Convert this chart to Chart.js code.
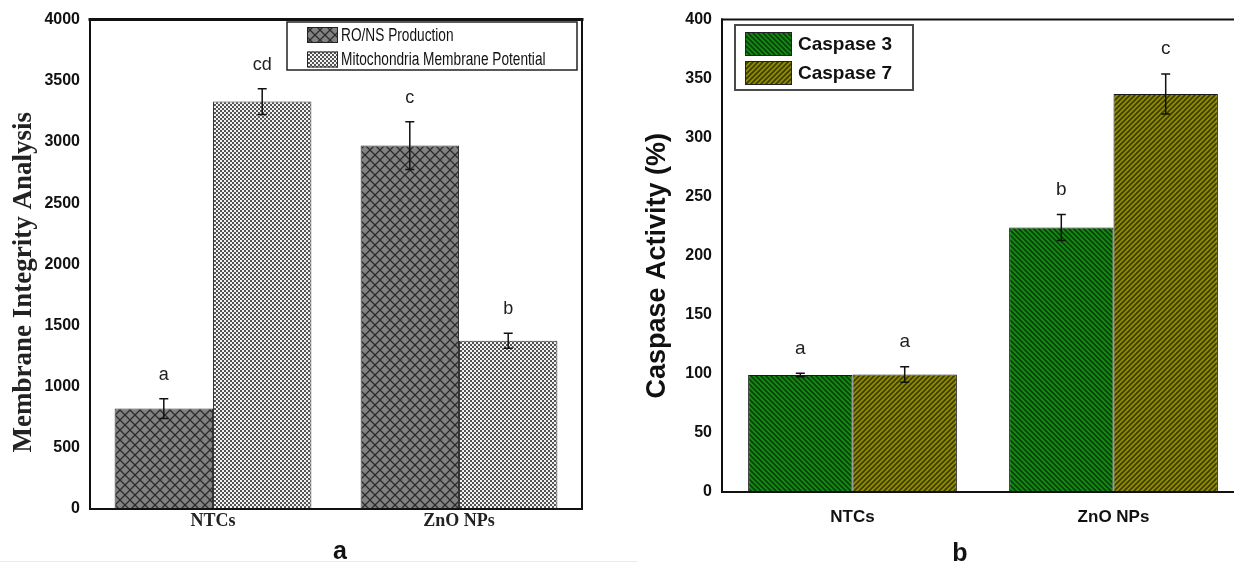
<!DOCTYPE html>
<html>
<head>
<meta charset="utf-8">
<script src="https://cdn.jsdelivr.net/npm/chart.js@4.4.1/dist/chart.umd.min.js"></script>
<style>
  html, body { margin: 0; padding: 0; background: #fff; overflow: hidden; width: 1234px; height: 565px; }
  #panelA { position: absolute; left: 0; top: 0; width: 615px; height: 565px; }
  #panelB { position: absolute; left: 615px; top: 0; width: 640px; height: 565px; }
  .caption { position: absolute; font: bold 25px "Liberation Sans", Arial, sans-serif; color: #111;
             line-height: 1; transform: translate(-50%, -50%); }
  .rule { position: absolute; left: 0; top: 561px; width: 637px; height: 1px; background: #ececec; }
</style>
</head>
<body>
<div id="panelA"><canvas id="chartA" width="615" height="565"></canvas></div>
<div id="panelB"><canvas id="chartB" width="640" height="565"></canvas></div>
<div class="rule"></div>
<div class="caption" style="left:340px; top:550px;">a</div>
<div class="caption" style="left:960px; top:552px;">b</div>

<script>
// ---- shared categories ----
const categories = ['NTCs', 'ZnO NPs'];

// ---- panel a: membrane integrity ----
const ronsProduction = [821, 2970];
const ronsError = [81, 195];
const ronsLetters = ['a', 'c'];
const mitoPotential = [3330, 1375];
const mitoError = [105, 62];
const mitoLetters = ['cd', 'b'];
const ticksA = [0, 500, 1000, 1500, 2000, 2500, 3000, 3500, 4000];

// ---- panel b: caspase activity ----
const caspase3 = [99, 224];
const caspase3Error = [1.5, 11];
const caspase3Letters = ['a', 'b'];
const caspase7 = [99.5, 337];
const caspase7Error = [6.5, 17];
const caspase7Letters = ['a', 'c'];
const ticksB = [0, 50, 100, 150, 200, 250, 300, 350, 400];

// ---- fill patterns ----
const patternCtx = document.createElement('canvas').getContext('2d');
function makePattern(size, paint) {
  const c = document.createElement('canvas');
  c.width = size; c.height = size;
  paint(c.getContext('2d'), size);
  return patternCtx.createPattern(c, 'repeat');
}
function diagonal(g, s, dir) {
  // dir 1: "\" lines, dir -1: "/" lines
  g.beginPath();
  for (let k = -1; k <= 1; k++) {
    if (dir > 0) { g.moveTo(k * s - 1, -1); g.lineTo(k * s + s + 1, s + 1); }
    else { g.moveTo(k * s - 1, s + 1); g.lineTo(k * s + s + 1, -1); }
  }
  g.stroke();
}
const crossHatch = makePattern(10, (g, s) => {
  g.fillStyle = '#828282'; g.fillRect(0, 0, s, s);
  g.strokeStyle = '#2c2c2c'; g.lineWidth = 1.3;
  diagonal(g, s, 1); diagonal(g, s, -1);
});
const fineCheck = makePattern(4, (g, s) => {
  g.fillStyle = '#545454'; g.fillRect(0, 0, s, s);
  g.fillStyle = '#f2f2f2'; g.fillRect(0, 0, 2, 2); g.fillRect(2, 2, 2, 2);
});
const greenStripes = makePattern(5, (g, s) => {
  g.fillStyle = '#148c14'; g.fillRect(0, 0, s, s);
  g.strokeStyle = '#0a3f0a'; g.lineWidth = 1.6;
  diagonal(g, s, 1);
});
const oliveStripes = makePattern(5, (g, s) => {
  g.fillStyle = '#8f8d02'; g.fillRect(0, 0, s, s);
  g.strokeStyle = '#3d3c00'; g.lineWidth = 1.6;
  diagonal(g, s, -1);
});

// ---- plugins ----
const errorBars = {
  id: 'errorBars',
  afterDatasetsDraw(chart, args, o) {
    const ctx = chart.ctx, y = chart.scales.y;
    chart.data.datasets.forEach((ds, i) => {
      chart.getDatasetMeta(i).data.forEach((bar, j) => {
        const v = ds.data[j], e = ds.errors[j];
        const x = bar.x, top = y.getPixelForValue(v + e), bot = y.getPixelForValue(v - e);
        ctx.save();
        ctx.strokeStyle = o.color; ctx.lineWidth = o.width;
        ctx.beginPath();
        ctx.moveTo(x, top); ctx.lineTo(x, bot);
        ctx.moveTo(x - o.cap / 2, top); ctx.lineTo(x + o.cap / 2, top);
        ctx.moveTo(x - o.cap / 2, bot); ctx.lineTo(x + o.cap / 2, bot);
        ctx.stroke();
        ctx.fillStyle = o.letterColor; ctx.font = o.letterFont;
        ctx.textAlign = 'center'; ctx.textBaseline = 'middle';
        ctx.fillText(ds.letters[j], x, top - o.letterGap);
        ctx.restore();
      });
    });
  }
};

const frame = {
  id: 'frame',
  afterDraw(chart, args, o) {
    const { left, right, top, bottom } = chart.chartArea;
    const ctx = chart.ctx;
    ctx.save();
    ctx.strokeStyle = o.color; ctx.lineCap = 'square';
    ctx.lineWidth = o.side;
    ctx.beginPath();
    ctx.moveTo(left, top); ctx.lineTo(left, bottom); ctx.lineTo(right, bottom); ctx.lineTo(right, top);
    ctx.stroke();
    ctx.lineWidth = o.top;
    ctx.beginPath(); ctx.moveTo(left, top); ctx.lineTo(right, top); ctx.stroke();
    ctx.restore();
  }
};

// vertical axis title, placed beside the value axis
const sideTitle = {
  id: 'sideTitle',
  afterDraw(chart, args, o) {
    const ctx = chart.ctx, a = chart.chartArea;
    ctx.save();
    ctx.translate(o.x, (a.top + a.bottom) / 2 + o.dy);
    ctx.rotate(-Math.PI / 2);
    ctx.fillStyle = o.color; ctx.font = o.font;
    ctx.textAlign = 'center'; ctx.textBaseline = 'middle';
    ctx.fillText(o.text, 0, 0);
    ctx.restore();
  }
};

const boxLegend = {
  id: 'boxLegend',
  afterDraw(chart, args, o) {
    const ctx = chart.ctx;
    ctx.save();
    ctx.fillStyle = '#fff';
    ctx.fillRect(o.x, o.y, o.w, o.h);
    ctx.strokeStyle = o.border; ctx.lineWidth = o.borderWidth;
    ctx.strokeRect(o.x, o.y, o.w, o.h);
    chart.data.datasets.forEach((ds, i) => {
      const sy = o.rowTop + i * o.pitch;
      ctx.fillStyle = ds.backgroundColor;
      ctx.fillRect(o.swX, sy, o.swW, o.swH);
      ctx.strokeStyle = '#222'; ctx.lineWidth = 1;
      ctx.strokeRect(o.swX + 0.5, sy + 0.5, o.swW - 1, o.swH - 1);
      ctx.fillStyle = '#111'; ctx.font = o.font;
      ctx.textAlign = 'left'; ctx.textBaseline = 'middle';
      ctx.save();
      ctx.translate(o.textX, sy + o.swH / 2 + 1);
      ctx.scale(o.squeeze, 1);
      ctx.fillText(ds.label, 0, 0);
      ctx.restore();
    });
    ctx.restore();
  }
};

const plainNumber = v => String(v);

// ---- panel a ----
new Chart(document.getElementById('chartA'), {
  type: 'bar',
  data: {
    labels: categories,
    datasets: [
      { label: 'RO/NS Production', data: ronsProduction, errors: ronsError, letters: ronsLetters,
        backgroundColor: crossHatch, borderColor: '#333', borderWidth: 1 },
      { label: 'Mitochondria Membrane Potential', data: mitoPotential, errors: mitoError, letters: mitoLetters,
        backgroundColor: fineCheck, borderColor: '#333', borderWidth: 1 }
    ]
  },
  options: {
    responsive: false, animation: false, devicePixelRatio: 1,
    layout: { padding: { top: 17, right: 33, left: 0, bottom: 0 } },
    datasets: { bar: { categoryPercentage: 0.8, barPercentage: 1 } },
    plugins: {
      legend: { display: false }, tooltip: { enabled: false },
      errorBars: { color: '#111', width: 1.5, cap: 9, letterGap: 24, letterColor: '#222',
                   letterFont: '18px "Liberation Sans", Arial, sans-serif' },
      frame: { color: '#111', side: 2, top: 3 },
      sideTitle: { text: 'Membrane Integrity Analysis', x: 24, dy: 18, color: '#222',
                   font: 'bold 27px "Liberation Serif", "Times New Roman", serif' },
      boxLegend: { x: 287, y: 22, w: 290, h: 48, border: '#222', borderWidth: 1.5,
                   swX: 307, swW: 31, swH: 16, rowTop: 27, pitch: 24.5, textX: 341, squeeze: 0.76,
                   font: '18px "Liberation Sans", Arial, sans-serif' }
    },
    scales: {
      x: {
        grid: { display: false, drawTicks: false }, border: { display: false },
        ticks: { color: '#222', padding: 2, font: { family: '"Liberation Serif", "Times New Roman", serif', size: 18, weight: 'bold' } },
        afterFit(s) { s.height = 56; }
      },
      y: {
        min: ticksA[0], max: ticksA[ticksA.length - 1],
        grid: { display: false, drawTicks: false }, border: { display: false },
        ticks: { stepSize: ticksA[1] - ticksA[0], color: '#111', padding: 10, callback: plainNumber,
                 font: { family: '"Liberation Sans", Arial, sans-serif', size: 16, weight: 'bold' } },
        afterFit(s) { s.width = 90; }
      }
    }
  },
  plugins: [errorBars, frame, sideTitle, boxLegend]
});

// ---- panel b ----
new Chart(document.getElementById('chartB'), {
  type: 'bar',
  data: {
    labels: categories,
    datasets: [
      { label: 'Caspase 3', data: caspase3, errors: caspase3Error, letters: caspase3Letters,
        backgroundColor: greenStripes, borderColor: '#1a1a1a', borderWidth: 1 },
      { label: 'Caspase 7', data: caspase7, errors: caspase7Error, letters: caspase7Letters,
        backgroundColor: oliveStripes, borderColor: '#1a1a1a', borderWidth: 1 }
    ]
  },
  options: {
    responsive: false, animation: false, devicePixelRatio: 1,
    layout: { padding: { top: 18, right: 11, left: 0, bottom: 0 } },
    datasets: { bar: { categoryPercentage: 0.8, barPercentage: 1 } },
    plugins: {
      legend: { display: false }, tooltip: { enabled: false },
      errorBars: { color: '#111', width: 1.5, cap: 9, letterGap: 25, letterColor: '#222',
                   letterFont: '19px "Liberation Sans", Arial, sans-serif' },
      frame: { color: '#111', side: 2, top: 2 },
      sideTitle: { text: 'Caspase Activity (%)', x: 43, dy: 10, color: '#111',
                   font: 'bold 27px "Liberation Sans", Arial, sans-serif' },
      boxLegend: { x: 120, y: 25, w: 178, h: 65, border: '#4a4a4a', borderWidth: 2,
                   swX: 130, swW: 47, swH: 24, rowTop: 32, pitch: 29, textX: 183, squeeze: 1,
                   font: 'bold 19px "Liberation Sans", Arial, sans-serif' }
    },
    scales: {
      x: {
        grid: { display: false, drawTicks: false }, border: { display: false },
        ticks: { color: '#111', padding: 15, font: { family: '"Liberation Sans", Arial, sans-serif', size: 17, weight: 'bold' } },
        afterFit(s) { s.height = 73; }
      },
      y: {
        min: ticksB[0], max: ticksB[ticksB.length - 1],
        grid: { display: false, drawTicks: false }, border: { display: false },
        ticks: { stepSize: ticksB[1] - ticksB[0], color: '#111', padding: 10, callback: plainNumber,
                 font: { family: '"Liberation Sans", Arial, sans-serif', size: 16, weight: 'bold' } },
        afterFit(s) { s.width = 107; }
      }
    }
  },
  plugins: [errorBars, frame, sideTitle, boxLegend]
});
</script>
</body>
</html>
